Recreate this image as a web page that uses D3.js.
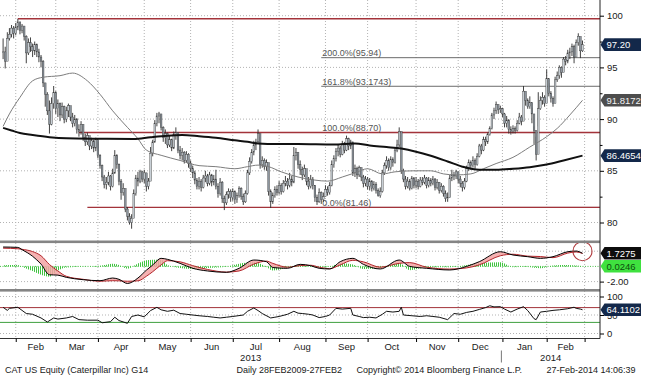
<!DOCTYPE html>
<html>
<head>
<meta charset="utf-8">
<title>CAT US Equity</title>
<script src="https://cdn.jsdelivr.net/npm/d3@7/dist/d3.min.js"></script>
<style>
  body { margin: 0; background: #fff; }
  #chart { display: block; font-family: "Liberation Sans", Arial, sans-serif; }
</style>
</head>
<body>
<svg id="chart" width="645" height="376"></svg>
<script>
// ---- values (CAT US Equity, daily bars) ----
const firstDay = "2013-01-24", lastDay = "2014-02-27";
const holidays = ["2013-02-18", "2013-03-29", "2013-05-27", "2013-07-04", "2013-09-02",
  "2013-11-28", "2013-12-25", "2014-01-01", "2014-01-20", "2014-02-17"];

const closes = [
  96.5, 95.6, 97.8, 98.2, 98.8, 98.3, 98.9, 99.4, 98.6, 99.0,
  98.0, 96.4, 97.4, 97.0, 96.6, 97.2, 96.5, 96.0, 95.6, 93.5,
  92.4, 90.8, 89.5, 91.5, 92.6, 91.0, 91.5, 90.4, 91.2, 90.0,
  90.8, 91.3, 90.2, 89.6, 90.0, 89.0, 88.8, 89.5, 88.2, 87.8,
  88.4, 87.4, 87.9, 87.2, 88.0, 86.5, 85.5, 84.4, 83.7, 83.9,
  84.5, 83.5, 84.8, 86.5, 85.6, 84.0, 82.9, 83.3, 81.3, 80.6,
  80.0, 80.4, 82.8, 84.3, 84.0, 84.9, 84.2, 84.8, 83.5, 84.0,
  86.7, 87.8, 89.6, 90.3, 90.5, 89.2, 88.2, 88.6, 87.5, 88.0,
  87.2, 88.5, 88.7, 87.0, 86.5, 86.8, 86.0, 86.6, 85.7, 85.2,
  84.8, 84.1, 83.5, 84.0, 83.4, 84.3, 84.5, 83.8, 84.6, 83.9,
  84.2, 83.5, 82.8, 83.9, 82.3, 81.9, 82.7, 83.0, 82.4, 83.0,
  82.2, 82.6, 83.3, 82.5, 82.0, 82.8, 84.8, 85.9, 86.8, 87.5,
  87.8, 88.6, 85.6, 86.0, 85.4, 85.8, 83.0, 82.0, 82.6, 83.2,
  82.9, 83.6, 83.0, 83.8, 84.0, 83.6, 84.2, 83.9, 86.5, 86.8,
  85.6, 85.1, 84.6, 85.2, 84.0, 83.5, 84.2, 83.6, 82.4, 82.0,
  82.9, 82.2, 82.5, 83.2, 82.9, 83.6, 85.6, 86.2, 86.9, 87.2,
  86.6, 87.6, 87.0, 88.1, 87.4, 87.8, 84.8, 85.2, 84.6, 85.3,
  84.4, 83.8, 84.2, 83.5, 84.0, 83.3, 83.7, 83.1, 82.6, 83.0,
  84.8, 85.5, 86.0, 85.3, 86.1, 85.8, 87.0, 87.5, 88.8, 85.0,
  84.2, 83.5, 84.0, 83.3, 84.3, 83.6, 84.0, 83.5, 84.1, 83.9,
  84.3, 83.6, 84.1, 83.8, 84.2, 83.4, 83.9, 83.1, 83.5, 82.8,
  82.3, 82.4, 84.3, 84.6, 84.5, 84.9, 84.2, 83.8, 83.4, 84.0,
  85.2, 85.8, 85.5, 86.0, 85.6, 86.4, 87.4, 87.0, 88.0, 87.8,
  88.5, 89.1, 90.4, 90.8, 91.4, 90.9, 91.0, 90.5, 89.6, 89.9,
  89.0, 88.8, 89.1, 88.9, 89.6, 90.2, 89.8, 92.7, 91.8, 91.2,
  91.6, 90.5, 88.9, 86.6, 91.0, 91.8, 92.1, 91.5, 93.9, 92.5,
  92.0, 91.5, 93.8, 94.2, 95.0, 94.5, 95.8, 95.6, 96.4, 96.5,
  97.0, 96.0, 97.4, 98.0, 96.6, 97.2
];
const highs = [
  97.8, 97.0, 98.4, 98.8, 99.1, 99.0, 99.3, 99.7, 99.4, 99.2,
  98.9, 98.1, 97.8, 97.9, 97.3, 97.5, 97.3, 96.8, 96.2, 95.7,
  93.5, 92.6, 91.8, 92.1, 93.2, 92.7, 91.9, 91.6, 91.6, 91.3,
  91.2, 91.5, 91.2, 90.6, 90.4, 90.1, 89.5, 89.8, 89.4, 88.6,
  88.7, 88.3, 88.2, 88.0, 88.2, 87.8, 86.6, 85.6, 84.6, 84.4,
  84.9, 84.6, 85.2, 87.0, 86.6, 85.7, 84.2, 83.8, 83.0, 81.5,
  80.9, 80.8, 83.2, 84.6, 84.9, 85.1, 85.0, 85.1, 84.8, 84.3,
  87.3, 88.0, 89.9, 90.6, 90.7, 90.4, 89.3, 89.0, 88.7, 88.4,
  88.1, 88.8, 89.2, 88.6, 87.4, 87.2, 86.9, 86.9, 86.7, 86.0,
  85.5, 85.0, 84.3, 84.4, 84.2, 84.6, 85.0, 84.7, 84.9, 84.7,
  84.6, 85.1, 83.8, 84.3, 84.0, 82.6, 83.0, 83.3, 83.2, 83.3,
  83.1, 82.9, 83.5, 83.4, 82.8, 83.1, 85.1, 86.3, 87.1, 87.9,
  88.1, 89.0, 88.3, 86.4, 86.2, 86.1, 85.4, 83.2, 82.9, 83.5,
  83.6, 84.0, 83.8, 84.1, 84.5, 84.3, 84.8, 84.5, 87.3, 87.2,
  86.6, 86.0, 85.4, 85.6, 85.1, 84.4, 84.6, 84.4, 83.6, 82.7,
  83.3, 83.0, 82.9, 83.6, 83.5, 83.9, 86.0, 86.5, 87.2, 87.6,
  87.4, 87.9, 87.8, 88.4, 88.2, 88.0, 87.7, 85.6, 85.4, 85.5,
  85.3, 84.6, 84.5, 84.4, 84.3, 84.1, 84.0, 83.9, 83.3, 83.4,
  85.1, 85.8, 86.4, 86.2, 86.4, 86.3, 87.3, 88.0, 89.2, 88.5,
  85.2, 84.5, 84.4, 84.2, 84.5, 84.4, 84.4, 84.2, 84.4, 84.4,
  84.6, 84.4, 84.4, 84.3, 84.5, 84.3, 84.2, 83.9, 83.8, 83.6,
  83.1, 82.9, 84.6, 85.1, 84.9, 85.1, 84.9, 84.5, 84.0, 84.3,
  85.5, 86.1, 86.0, 86.4, 86.2, 86.7, 87.6, 87.6, 88.3, 88.3,
  88.7, 89.3, 90.6, 91.1, 91.7, 91.4, 91.3, 91.1, 90.6, 90.3,
  90.0, 89.3, 89.4, 89.3, 89.9, 90.6, 90.4, 93.2, 92.3, 92.0,
  92.2, 91.1, 89.3, 88.3, 92.6, 92.2, 92.6, 92.3, 94.8, 93.5,
  92.7, 92.2, 94.1, 94.6, 95.2, 95.1, 96.0, 96.1, 96.7, 96.9,
  97.3, 97.2, 97.7, 98.3, 97.9, 97.6
];
const lows = [
  95.8, 94.9, 96.6, 97.6, 97.9, 97.8, 98.1, 98.6, 98.2, 98.3,
  97.6, 95.4, 96.2, 96.5, 96.0, 96.2, 96.0, 95.5, 95.0, 93.1,
  91.2, 90.4, 88.6, 89.4, 91.0, 90.5, 90.2, 89.8, 90.1, 89.6,
  89.7, 90.2, 89.8, 89.2, 89.3, 88.6, 88.3, 88.5, 87.9, 87.4,
  87.5, 87.0, 87.1, 86.8, 86.9, 86.2, 85.2, 84.0, 83.3, 83.2,
  83.6, 83.1, 83.4, 84.7, 85.2, 83.6, 82.2, 82.6, 81.0, 80.2,
  79.8, 79.4, 80.6, 82.6, 83.5, 83.8, 83.9, 83.8, 83.0, 83.2,
  84.2, 86.4, 87.7, 89.3, 89.6, 88.9, 87.8, 87.6, 87.2, 87.3,
  86.9, 87.1, 88.0, 86.7, 86.1, 86.0, 85.7, 85.8, 85.3, 84.9,
  84.3, 83.7, 83.2, 83.2, 83.0, 83.3, 83.9, 83.5, 83.6, 83.5,
  83.6, 83.2, 82.4, 82.6, 81.9, 81.2, 81.7, 82.3, 82.0, 82.1,
  81.8, 81.9, 82.4, 82.2, 81.7, 81.9, 82.7, 84.6, 85.7, 86.5,
  87.0, 87.6, 85.2, 85.3, 85.1, 85.0, 82.6, 81.4, 81.8, 82.4,
  82.6, 82.7, 82.7, 82.9, 83.5, 83.2, 83.4, 83.5, 83.8, 86.0,
  85.2, 84.6, 84.1, 84.4, 83.6, 83.2, 83.3, 83.2, 82.0, 81.7,
  81.9, 81.8, 82.0, 82.5, 82.6, 82.7, 83.5, 85.3, 85.9, 86.4,
  86.3, 86.5, 86.7, 86.9, 87.0, 87.1, 84.5, 84.4, 84.2, 84.4,
  84.0, 83.4, 83.5, 83.2, 83.1, 83.0, 83.1, 82.8, 82.5, 82.4,
  82.9, 84.6, 85.2, 85.0, 85.1, 85.4, 85.7, 86.8, 87.3, 84.7,
  83.9, 83.2, 83.3, 83.1, 83.2, 83.3, 83.3, 83.2, 83.4, 83.6,
  83.7, 83.3, 83.4, 83.5, 83.6, 83.1, 83.2, 82.8, 82.9, 82.5,
  82.0, 82.0, 82.4, 84.0, 84.1, 84.2, 83.8, 83.4, 83.0, 83.2,
  83.9, 85.0, 85.1, 85.3, 85.2, 85.5, 86.3, 86.6, 86.9, 87.4,
  87.6, 88.4, 89.0, 90.0, 90.5, 90.5, 90.6, 90.2, 89.2, 89.2,
  88.6, 88.5, 88.6, 88.6, 88.8, 89.5, 89.4, 91.9, 91.3, 91.0,
  91.0, 89.6, 87.6, 86.0, 89.3, 90.9, 91.4, 91.2, 92.2, 92.2,
  91.6, 91.2, 91.8, 93.6, 93.9, 94.0, 94.8, 95.2, 95.4, 95.8,
  96.1, 95.4, 96.2, 97.1, 95.9, 96.5
];

// moving averages, [trading day, value]
const ma50 = [[0, 89.3], [3, 90.5], [8, 92.1], [14, 93.7], [19, 94.05], [27, 94.2], [33, 94.45],
  [40, 93.7], [46, 92.4], [52, 90.8], [59, 89.2], [64, 88.1], [68, 87.0], [75, 86.5], [84, 86.0],
  [93, 85.5], [101, 85.4], [110, 85.2], [116, 85.4], [121, 85.55], [126, 85.4], [132, 84.9],
  [140, 84.4], [148, 84.1], [154, 84.0], [161, 84.4], [167, 84.8], [173, 85.2], [180, 84.7],
  [186, 84.9], [195, 85.0], [203, 85.0], [209, 84.7], [215, 84.6], [222, 84.7], [228, 85.2],
  [234, 85.7], [242, 86.3], [250, 87.3], [258, 88.3], [263, 89.1], [269, 90.4], [275, 91.8172]];
const ma200 = [[0, 89.15], [4, 88.9], [8, 88.65], [14, 88.46], [22, 88.25], [30, 88.14], [46, 88.1],
  [62, 88.07], [70, 88.25], [78, 88.4], [85, 88.46], [93, 88.35], [101, 88.2], [110, 87.95],
  [116, 87.8], [121, 87.65], [130, 87.6], [140, 87.6], [157, 87.55], [167, 87.65], [174, 87.45],
  [182, 87.3], [189, 87.15], [196, 86.85], [203, 86.45], [211, 85.9], [218, 85.4], [226, 85.1],
  [234, 85.1], [242, 85.2], [250, 85.35], [258, 85.6], [266, 86.0], [275, 86.4654]];

// MACD, [trading day, macd, signal]
const macd = [[0, 2.55, 2.40], [7, 2.50, 2.32], [9, 2.20, 2.25], [14, 1.33, 1.95], [18, 0.30, 1.40],
  [22, -1.10, 0.25], [26, -1.15, -0.60], [30, -1.44, -1.30], [38, -1.75, -1.70], [46, -1.88, -1.95],
  [52, -1.53, -1.88], [55, -1.70, -1.90], [59, -2.25, -1.95], [64, -1.53, -1.90], [68, -0.50, -1.30],
  [71, 0.18, -0.70], [75, 1.06, 0.20], [78, 0.93, 0.75], [84, 0.40, 0.60], [90, -0.25, 0.10],
  [97, -0.60, -0.40], [106, -0.78, -0.75], [112, -0.25, -0.60], [119, 0.84, 0.30], [125, 0.62, 0.70],
  [128, -0.15, 0.40], [135, -0.25, -0.10], [141, 0.27, 0.10], [146, 0.09, 0.15], [150, -0.25, -0.10],
  [155, -0.34, -0.30], [160, 0.62, 0.20], [166, 1.06, 0.80], [171, 0.27, 0.60], [179, -0.34, -0.10],
  [188, 0.84, 0.40], [193, 0.00, 0.50], [201, -0.25, -0.10], [212, -0.47, -0.35], [220, 0.00, -0.20],
  [226, 0.62, 0.20], [236, 1.93, 1.40], [242, 1.50, 1.60], [249, 1.28, 1.35], [255, 1.06, 1.30],
  [261, 1.28, 1.15], [268, 1.93, 1.75], [272, 2.02, 1.90], [275, 1.7275, 1.7029]];

// RSI, [trading day, value]
const rsi = [[0, 70.8], [2, 62.5], [3, 68], [7, 70.8], [9, 62.5], [11, 54], [14, 52], [18, 42], [21, 31],
  [24, 42], [26, 39], [30, 42], [33, 46], [36, 37.5], [40, 36], [45, 36], [47, 29], [51, 32], [53, 44],
  [55, 35], [59, 27.5], [61, 46], [64, 50], [67, 45], [70, 62], [73, 70.8], [75, 64], [78, 60], [81, 63],
  [84, 54], [87, 52], [90, 50], [93, 48], [97, 46], [100, 44], [103, 42], [106, 44], [109, 46], [114, 50],
  [116, 60], [119, 69], [121, 62], [123, 54], [127, 42], [129, 44], [131, 46], [135, 52], [138, 60],
  [140, 55], [142, 54], [145, 52], [147, 50], [150, 43], [153, 46], [155, 50], [158, 68], [161, 66],
  [165, 68], [166, 50], [169, 46], [171, 43], [174, 44], [177, 42], [180, 52], [182, 60], [185, 58],
  [188, 60], [189, 71], [190, 50], [194, 48], [198, 46], [201, 48], [204, 46], [207, 44], [211, 37.5],
  [214, 54], [217, 52], [220, 57], [223, 60], [226, 65], [229, 70], [231, 75], [233, 72], [236, 72.5],
  [238, 66], [241, 58], [244, 66], [247, 72.5], [249, 62], [252, 40], [253, 37.5], [255, 58], [258, 60],
  [261, 62.5], [264, 64], [268, 67], [271, 71], [272, 68], [274, 66], [275, 64.1102]];

// horizontal levels: [start trading day, price]
const redLevels = [[7, 99.7], [36, 88.70], [40, 81.46]];
const fibStart = 151;
const fibValues = [95.94, 93.1743, 88.70, 81.46];
const fibLabels = ["200.0%(95.94)", "161.8%(93.1743)", "100.0%(88.70)", "0.0%(81.46)"];

const priceTicks = [80, 85, 90, 95, 100];
const priceMinorTicks = [82.5, 87.5, 92.5, 97.5];
const macdTicks = [-2];
const macdGrid = [-2, 2];
const rsiTicks = [0, 50, 100];
const rsiBands = [70, 30];

const lastClose = 97.20, lastMa50 = 91.8172, lastMa200 = 86.4654;
const lastMacd = 1.7275, lastHist = 0.0246, lastRsi = 64.1102;

const footerTexts = ["CAT US Equity (Caterpillar Inc) G14", "Daily 28FEB2009-27FEB2",
  "Copyright\u00a9 2014 Bloomberg Finance L.P.", "27-Feb-2014 14:06:39"];

// ---- chart ----
const svg = d3.select("#chart");
const plotRight = 600, axisY = 338.5;

const parseDay = d3.utcParse("%Y-%m-%d"), fmtDay = d3.utcFormat("%Y-%m-%d");
const days = d3.utcDays(parseDay(firstDay), d3.utcDay.offset(parseDay(lastDay), 1))
  .filter(d => d.getUTCDay() % 6 !== 0 && !holidays.includes(fmtDay(d)));

// month boundaries (first trading day of each month) + the next month after the data
const monthStarts = d3.range(1, days.length).filter(i => days[i].getUTCMonth() !== days[i - 1].getUTCMonth());
const monthTicks = monthStarts.concat([days.length]);
const yearStarts = monthStarts.filter(i => days[i].getUTCFullYear() !== days[i - 1].getUTCFullYear());

const x = d3.scaleLinear().domain([0, days.length - 1]).range([3.1, 582.5]);
const yP = d3.scaleLinear().domain([80, 100]).range([222.5, 15.7]);
const yM = d3.scaleLinear().domain([-2, 2]).range([281.6, 251.2]);
const yR = d3.scaleLinear().domain([0, 100]).range([333.5, 296.5]);

const defs = svg.append("defs");
defs.append("clipPath").attr("id", "clipMain").append("rect").attr("width", plotRight).attr("height", 240);
defs.append("clipPath").attr("id", "clipMacd").append("rect").attr("y", 243).attr("width", plotRight).attr("height", 46);
defs.append("clipPath").attr("id", "clipRsi").append("rect").attr("y", 291.5).attr("width", plotRight).attr("height", 46.5);
defs.append("pattern").attr("id", "histStripes").attr("patternUnits", "userSpaceOnUse")
  .attr("width", 2).attr("height", 2)
  .append("rect").attr("width", 1).attr("height", 2).attr("fill", "#3fc43f");

// dotted grid
const grid = svg.append("g").attr("stroke", "#b3b3b3").attr("stroke-dasharray", "1,2").attr("fill", "none");
grid.selectAll(".vg").data(monthTicks).enter().append("line")
  .attr("x1", d => x(d)).attr("x2", d => x(d)).attr("y1", 0).attr("y2", axisY);
grid.selectAll(".hp").data(priceTicks).enter().append("line")
  .attr("x1", 0).attr("x2", plotRight).attr("y1", d => yP(d)).attr("y2", d => yP(d));
grid.selectAll(".hm").data(macdGrid).enter().append("line")
  .attr("x1", 0).attr("x2", plotRight).attr("y1", d => yM(d)).attr("y2", d => yM(d));
grid.selectAll(".hr").data(rsiTicks).enter().append("line")
  .attr("x1", 0).attr("x2", plotRight).attr("y1", d => yR(d)).attr("y2", d => yR(d));

// ---- main price panel ----
const main = svg.append("g").attr("clip-path", "url(#clipMain)");

main.selectAll(".fib").data(fibValues).enter().append("line")
  .attr("x1", x(fibStart)).attr("x2", plotRight)
  .attr("y1", d => yP(d)).attr("y2", d => yP(d))
  .attr("stroke", "#6b6b6b").attr("stroke-width", 1);

main.selectAll(".lvl").data(redLevels).enter().append("line")
  .attr("x1", d => x(d[0])).attr("x2", plotRight)
  .attr("y1", d => yP(d[1])).attr("y2", d => yP(d[1]))
  .attr("stroke", "#a3333a").attr("stroke-width", 1.4);

main.selectAll(".fibLabel").data(fibValues).enter().append("text")
  .attr("x", x(fibStart) + 1).attr("y", d => yP(d) - 1.5)
  .attr("fill", "#555").style("font-size", "9px")
  .text((d, i) => fibLabels[i]);

// candles: body runs from the previous close to the close
const bars = closes.map((c, i) => ({ t: i, open: i ? closes[i - 1] : c, close: c, high: highs[i], low: lows[i] }));

main.selectAll(".wick").data(bars).enter().append("line")
  .attr("x1", d => x(d.t)).attr("x2", d => x(d.t))
  .attr("y1", d => yP(d.high)).attr("y2", d => yP(d.low))
  .attr("stroke", "#2c2c2c").attr("stroke-width", 0.9);

main.selectAll(".body").data(bars).enter().append("rect")
  .attr("x", d => x(d.t) - 0.85).attr("width", 1.7)
  .attr("y", d => yP(Math.max(d.open, d.close)))
  .attr("height", d => Math.max(0.8, Math.abs(yP(d.open) - yP(d.close))))
  .attr("fill", d => d.close >= d.open ? "#c9d0d6" : "#8d969f")
  .attr("stroke", "#3a3a3a").attr("stroke-width", 0.4);

const maLine = d3.line().x(d => x(d[0])).y(d => yP(d[1])).curve(d3.curveMonotoneX);
main.append("path").datum(ma50).attr("d", maLine)
  .attr("fill", "none").attr("stroke", "#7d7d7d").attr("stroke-width", 1);
main.append("path").datum(ma200).attr("d", maLine)
  .attr("fill", "none").attr("stroke", "#111").attr("stroke-width", 2);

// ---- MACD panel ----
const macdG = svg.append("g").attr("clip-path", "url(#clipMacd)");

macdG.append("line").attr("x1", 0).attr("x2", plotRight).attr("y1", yM(0)).attr("y2", yM(0))
  .attr("stroke", "#4cbf4c").attr("stroke-dasharray", "1,1.5");

macdG.append("path").datum(macd)
  .attr("d", d3.area().x(d => x(d[0])).y0(yM(0)).y1(d => yM(d[1] - d[2])).curve(d3.curveMonotoneX))
  .attr("fill", "url(#histStripes)");

macdG.append("path").datum(macd)
  .attr("d", d3.area().x(d => x(d[0])).y0(d => yM(d[2])).y1(d => yM(d[1])).curve(d3.curveMonotoneX))
  .attr("fill", "#f3a3a3").attr("opacity", 0.85);

macdG.append("path").datum(macd)
  .attr("d", d3.line().x(d => x(d[0])).y(d => yM(d[2])).curve(d3.curveMonotoneX))
  .attr("fill", "none").attr("stroke", "#b3262b").attr("stroke-width", 1);
macdG.append("path").datum(macd)
  .attr("d", d3.line().x(d => x(d[0])).y(d => yM(d[1])).curve(d3.curveMonotoneX))
  .attr("fill", "none").attr("stroke", "#000").attr("stroke-width", 1);

svg.append("circle").attr("cx", x(days.length - 1)).attr("cy", yM(2)).attr("r", 9.5)
  .attr("fill", "none").attr("stroke", "#b0393c").attr("stroke-width", 1.1);

// ---- RSI panel ----
const rsiG = svg.append("g").attr("clip-path", "url(#clipRsi)");
rsiG.selectAll(".band").data(rsiBands).enter().append("line")
  .attr("x1", 0).attr("x2", plotRight).attr("y1", d => yR(d)).attr("y2", d => yR(d))
  .attr("stroke", (d, i) => i ? "#3f9f3f" : "#a3333a").attr("stroke-width", 1);
rsiG.append("path").datum(rsi)
  .attr("d", d3.line().x(d => x(d[0])).y(d => yR(d[1])))
  .attr("fill", "none").attr("stroke", "#111").attr("stroke-width", 1);

// panel separators and frame
svg.selectAll(".sep").data([240.5, 289]).enter().append("rect")
  .attr("x", 0).attr("y", d => d).attr("width", plotRight).attr("height", 2.6).attr("fill", "#858585");
svg.append("line").attr("x1", plotRight).attr("x2", plotRight).attr("y1", 0).attr("y2", axisY)
  .attr("stroke", "#222");
svg.append("line").attr("x1", 0).attr("x2", plotRight).attr("y1", axisY).attr("y2", axisY)
  .attr("stroke", "#333");

// ---- axes ----
function styleAxis(g) {
  g.attr("font-family", null).attr("font-size", 9.5);
  g.select(".domain").remove();
  g.selectAll("text").attr("fill", "#1a1a1a");
}
svg.append("g").attr("transform", `translate(${plotRight},0)`)
  .call(d3.axisRight(yP).tickValues(priceTicks).tickSize(4).tickPadding(3)).call(styleAxis);
svg.append("g").attr("transform", `translate(${plotRight},0)`)
  .call(d3.axisRight(yP).tickValues(priceMinorTicks).tickSize(2.5).tickFormat("")).call(styleAxis);
svg.append("g").attr("transform", `translate(${plotRight},0)`)
  .call(d3.axisRight(yM).tickValues(macdTicks).tickSize(4).tickPadding(3).tickFormat(d => d.toFixed(2)))
  .call(styleAxis);
svg.append("g").attr("transform", `translate(${plotRight},0)`)
  .call(d3.axisRight(yR).tickValues(rsiTicks).tickSize(4).tickPadding(3)).call(styleAxis);
svg.append("g").attr("transform", `translate(0,${axisY})`)
  .call(d3.axisBottom(x).tickValues(monthTicks).tickSize(3.5).tickFormat("")).call(styleAxis);

// month names centred between ticks, years centred on their stretch of the axis
const monthFmt = d3.utcFormat("%b"), yearFmt = d3.utcFormat("%Y");
svg.selectAll(".month").data(monthTicks.slice(0, -1)).enter().append("text")
  .attr("x", (d, i) => (x(d) + x(monthTicks[i + 1])) / 2).attr("y", 349.5)
  .attr("text-anchor", "middle").attr("fill", "#1a1a1a").style("font-size", "9.5px")
  .text(d => monthFmt(days[d]));

const yearEdges = [0].concat(yearStarts.map(i => x(i - 0.5)), [plotRight]);
svg.selectAll(".year").data(d3.range(yearEdges.length - 1)).enter().append("text")
  .attr("x", i => (yearEdges[i] + yearEdges[i + 1]) / 2).attr("y", 361)
  .attr("text-anchor", "middle").attr("fill", "#1a1a1a").style("font-size", "9.5px")
  .text(i => yearFmt(days[i ? yearStarts[i - 1] : 0]));
svg.selectAll(".yearSep").data(yearStarts).enter().append("line")
  .attr("x1", d => x(d - 0.5)).attr("x2", d => x(d - 0.5)).attr("y1", 350.5).attr("y2", 362.5)
  .attr("stroke", "#777");

// ---- last value tags on the right ----
function tag(y, text, fill, color) {
  const g = svg.append("g").attr("transform", `translate(${plotRight},${y})`);
  g.append("path").attr("d", "M0.5,0L4.5,-6.3H41V6.3H4.5Z").attr("fill", fill);
  g.append("text").attr("x", 6.5).attr("dy", "0.36em").attr("fill", color)
    .style("font-size", "9.5px").text(text);
}
tag(yP(lastClose), lastClose.toFixed(2), "#13284a", "#fff");
tag(yP(lastMa50), lastMa50.toFixed(4), "#4d4d4d", "#f2f2f2");
tag(yP(lastMa200), lastMa200.toFixed(4), "#13284a", "#fff");
tag(yM(lastMacd), lastMacd.toFixed(4), "#0d0d0d", "#fff");
tag(yM(lastHist), lastHist.toFixed(4), "#3fe13f", "#0d4d0d");
tag(yR(lastRsi), lastRsi.toFixed(4), "#13284a", "#fff");

// ---- footer ----
const footerX = [5, 236.5, 356.5, 546.5];
svg.selectAll(".footer").data(footerTexts).enter().append("text")
  .attr("x", (d, i) => footerX[i]).attr("y", 372.5)
  .attr("fill", "#1a1a1a").style("font-size", "9px")
  .text(d => d);
</script>
</body>
</html>
